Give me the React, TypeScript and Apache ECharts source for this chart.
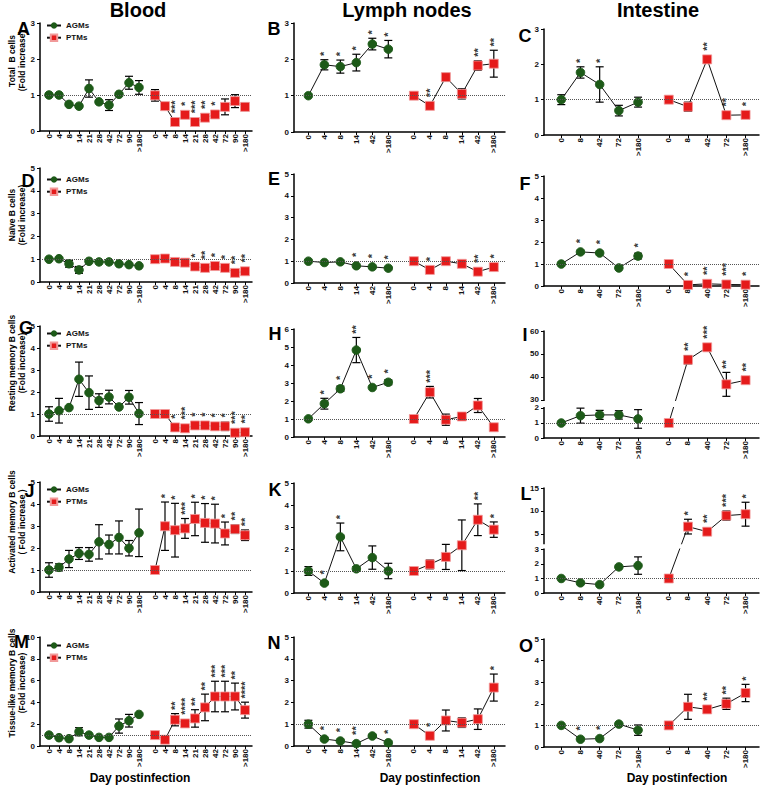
import React, { useEffect, useRef } from "react";
import * as echarts from "echarts";

const FONT = '"Liberation Sans", Arial, Helvetica, sans-serif';
const GREEN = "#1d5a18";
const RED = "#e51b1b";

// ---- categories (days postinfection) ----
const bloodDays = ["0", "4", "8", "14", "21", "28", "42", "72", "90", ">180"];
const lymphDays = ["0", "4", "8", "14", "42", ">180"];
const gutDaysC = ["0", "8", "42", "72", ">180"];
const gutDays = ["0", "8", "40", "72", ">180"];

// ---- Total B cells ----
const A_agm = [1.0, 1.0, 0.74, 0.69, 1.18, 0.81, 0.72, 1.02, 1.34, 1.21];
const A_agmSem = [0.03, 0.03, 0.03, 0.03, 0.24, 0.03, 0.15, 0.04, 0.18, 0.19];
const A_agmSig = ["", "", "", "", "", "", "", "", "", ""];
const A_ptm = [0.99, 0.69, 0.25, 0.45, 0.25, 0.37, 0.46, 0.67, 0.83, 0.67];
const A_ptmSem = [0.16, 0.03, 0.03, 0.03, 0.03, 0.04, 0.09, 0.22, 0.18, 0.1];
const A_ptmSig = ["", "", "***", "*", "***", "**", "*", "", "", ""];

const B_agm = [1.0, 1.85, 1.8, 1.91, 2.42, 2.28];
const B_agmSem = [0.02, 0.14, 0.18, 0.23, 0.16, 0.24];
const B_agmSig = ["", "*", "*", "*", "*", "*"];
const B_ptm = [1.0, 0.72, 1.51, 1.05, 1.83, 1.88];
const B_ptmSem = [0.02, 0.03, 0.1, 0.14, 0.13, 0.37];
const B_ptmSig = ["", "**", "", "", "**", "**"];

const C_agm = [1.0, 1.77, 1.43, 0.69, 0.93];
const C_agmSem = [0.14, 0.16, 0.5, 0.15, 0.14];
const C_agmSig = ["", "*", "*", "", ""];
const C_ptm = [1.0, 0.8, 2.14, 0.56, 0.57];
const C_ptmSem = [0.02, 0.13, 0.03, 0.03, 0.03];
const C_ptmSig = ["", "", "**", "**", "*"];

// ---- Naive B cells ----
const D_agm = [1.0, 1.02, 0.8, 0.53, 0.91, 0.88, 0.88, 0.8, 0.76, 0.71];
const D_agmSem = [0.02, 0.02, 0.15, 0.15, 0.03, 0.03, 0.03, 0.03, 0.03, 0.03];
const D_agmSig = ["", "", "", "", "", "", "", "", "", ""];
const D_ptm = [1.0, 1.03, 0.88, 0.85, 0.68, 0.62, 0.7, 0.62, 0.4, 0.47];
const D_ptmSem = [0.06, 0.04, 0.04, 0.04, 0.04, 0.04, 0.04, 0.04, 0.06, 0.1];
const D_ptmSig = ["", "", "", "", "*", "**", "*", "*", "**", "**"];

const E_agm = [1.0, 0.94, 0.97, 0.79, 0.74, 0.68];
const E_agmSem = [0.03, 0.03, 0.03, 0.03, 0.03, 0.03];
const E_agmSig = ["", "", "", "*", "*", "*"];
const E_ptm = [1.0, 0.6, 1.0, 0.88, 0.52, 0.73];
const E_ptmSem = [0.03, 0.03, 0.03, 0.03, 0.03, 0.03];
const E_ptmSig = ["", "*", "", "", "**", "*"];

const F_agm = [1.0, 1.55, 1.5, 0.82, 1.36];
const F_agmSem = [0.02, 0.03, 0.03, 0.03, 0.13];
const F_agmSig = ["", "*", "*", "", "*"];
const F_ptm = [1.0, 0.05, 0.1, 0.07, 0.06];
const F_ptmSem = [0.02, 0.02, 0.02, 0.02, 0.02];
const F_ptmSig = ["", "*", "**", "***", "*"];

// ---- Resting memory B cells ----
const G_agm = [1.0, 1.15, 1.29, 2.58, 1.97, 1.61, 1.77, 1.32, 1.76, 1.02];
const G_agmSem = [0.33, 0.56, 0.05, 0.78, 0.76, 0.31, 0.31, 0.04, 0.31, 0.5];
const G_agmSig = ["", "", "", "", "", "", "", "", "", ""];
const G_ptm = [1.0, 1.0, 0.39, 0.35, 0.48, 0.48, 0.44, 0.44, 0.15, 0.17];
const G_ptmSem = [0.08, 0.04, 0.04, 0.04, 0.04, 0.04, 0.04, 0.19, 0.04, 0.04];
const G_ptmSig = ["", "", "*", "***", "*", "*", "*", "*", "***", "**"];

const H_agm = [1.01, 1.85, 2.68, 4.83, 2.75, 3.04];
const H_agmSem = [0.02, 0.3, 0.15, 0.7, 0.05, 0.14];
const H_agmSig = ["", "*", "*", "**", "*", "*"];
const H_ptm = [1.0, 2.49, 0.96, 1.14, 1.75, 0.54];
const H_ptmSem = [0.03, 0.32, 0.31, 0.18, 0.39, 0.17];
const H_ptmSig = ["", "***", "", "", "", ""];

const I_agm = [1.0, 1.49, 1.54, 1.54, 1.27];
const I_agmSem = [0.03, 0.5, 0.3, 0.28, 0.62];
const I_agmSig = ["", "", "", "", ""];
const I_ptm = [1.0, 47.5, 52.9, 36.8, 38.6];
const I_ptmSem = [0.05, 1.8, 0.6, 5.2, 1.1];
const I_ptmSig = ["", "**", "***", "**", "**"];

// ---- Activated memory B cells ----
const J_agm = [1.0, 1.12, 1.5, 1.75, 1.71, 2.28, 2.16, 2.48, 1.99, 2.69];
const J_agmSem = [0.33, 0.16, 0.39, 0.27, 0.31, 0.78, 0.43, 0.75, 0.35, 1.08];
const J_agmSig = ["", "", "", "", "", "", "", "", "", ""];
const J_ptm = [1.0, 2.99, 2.81, 2.89, 3.32, 3.14, 3.11, 2.66, 2.86, 2.58];
const J_ptmSem = [0.15, 1.1, 1.22, 0.45, 0.76, 0.88, 0.88, 0.52, 0.2, 0.24];
const J_ptmSig = ["", "*", "*", "***", "*", "*", "*", "*", "**", "**"];

const K_agm = [1.0, 0.45, 2.55, 1.1, 1.61, 1.0];
const K_agmSem = [0.2, 0.05, 0.63, 0.1, 0.53, 0.35];
const K_agmSig = ["", "*", "*", "", "", ""];
const K_ptm = [1.0, 1.3, 1.64, 2.17, 3.33, 2.88];
const K_ptmSem = [0.05, 0.2, 0.57, 1.15, 0.72, 0.35];
const K_ptmSig = ["", "", "", "", "**", "*"];

const L_agm = [1.0, 0.7, 0.58, 1.8, 1.89];
const L_agmSem = [0.03, 0.05, 0.03, 0.05, 0.6];
const L_agmSig = ["", "", "", "", ""];
const L_ptm = [1.0, 6.6, 5.5, 9.0, 9.3];
const L_ptmSem = [0.12, 1.6, 0.3, 1.0, 2.6];
const L_ptmSig = ["", "*", "**", "***", "*"];

// ---- Tissue-like memory B cells ----
const M_agm = [1.0, 0.76, 0.67, 1.31, 1.0, 0.79, 0.79, 1.83, 2.32, 2.9];
const M_agmSem = [0.05, 0.05, 0.05, 0.37, 0.05, 0.05, 0.05, 0.65, 0.58, 0.05];
const M_agmSig = ["", "", "", "", "", "", "", "", "", ""];
const M_ptm = [1.0, 0.58, 2.41, 2.07, 2.53, 3.54, 4.54, 4.54, 4.54, 3.29];
const M_ptmSem = [0.05, 0.05, 0.56, 0.1, 0.8, 1.22, 1.4, 1.4, 1.23, 0.73];
const M_ptmSig = ["", "", "**", "****", "**", "**", "***", "***", "**", "****"];

const N_agm = [1.0, 0.32, 0.23, 0.11, 0.46, 0.15];
const N_agmSem = [0.18, 0.03, 0.03, 0.03, 0.05, 0.03];
const N_agmSig = ["", "*", "*", "**", "", "*"];
const N_ptm = [1.0, 0.47, 1.17, 1.07, 1.23, 2.68];
const N_ptmSem = [0.03, 0.03, 0.48, 0.22, 0.47, 0.62];
const N_ptmSig = ["", "*", "", "", "", "*"];

const O_agm = [1.0, 0.36, 0.39, 1.06, 0.78];
const O_agmSem = [0.03, 0.03, 0.03, 0.03, 0.24];
const O_agmSig = ["", "*", "*", "", ""];
const O_ptm = [1.0, 1.86, 1.74, 2.0, 2.5];
const O_ptmSem = [0.03, 0.58, 0.1, 0.26, 0.4];
const O_ptmSig = ["", "", "**", "**", "*"];

// ---- axis tick labels ----
const yTicksI = [0, 1, 2, 30, 40, 50, 60];
const yTicksL = [0, 1, 2, 3, 5, 10, 15];

// ---- texts ----
const colTitles = ["Blood", "Lymph nodes", "Intestine"];
const rowNames = [
  "Total  B cells\n(Fold increase)",
  "Naïve B cells\n(Fold increase)",
  "Resting memory B cells\n(Fold increase)",
  "Activated memory B cells\n( Fold increase )",
  "Tissue-like memory B cells\n(Fold increase)",
];
const xName = "Day postinfection";
const letters = ["A", "B", "C", "D", "E", "F", "G", "H", "I", "J", "K", "L", "M", "N", "O"];
const seriesNames = ["AGMs", "PTMs"];

interface Brk {
  lowMax: number;
  highMin: number;
  gap: number;
  scale: number;
  ticks: number[];
}
interface Panel {
  days: string[];
  agm: number[];
  agmSem: number[];
  agmSig: string[];
  ptm: number[];
  ptmSem: number[];
  ptmSig: string[];
  yMax: number;
  yStep: number;
  brk?: Brk;
}

const panels: Panel[] = [
  { days: bloodDays, agm: A_agm, agmSem: A_agmSem, agmSig: A_agmSig, ptm: A_ptm, ptmSem: A_ptmSem, ptmSig: A_ptmSig, yMax: 3, yStep: 1 },
  { days: lymphDays, agm: B_agm, agmSem: B_agmSem, agmSig: B_agmSig, ptm: B_ptm, ptmSem: B_ptmSem, ptmSig: B_ptmSig, yMax: 3, yStep: 1 },
  { days: gutDaysC, agm: C_agm, agmSem: C_agmSem, agmSig: C_agmSig, ptm: C_ptm, ptmSem: C_ptmSem, ptmSig: C_ptmSig, yMax: 3, yStep: 1 },
  { days: bloodDays, agm: D_agm, agmSem: D_agmSem, agmSig: D_agmSig, ptm: D_ptm, ptmSem: D_ptmSem, ptmSig: D_ptmSig, yMax: 5, yStep: 1 },
  { days: lymphDays, agm: E_agm, agmSem: E_agmSem, agmSig: E_agmSig, ptm: E_ptm, ptmSem: E_ptmSem, ptmSig: E_ptmSig, yMax: 5, yStep: 1 },
  { days: gutDays, agm: F_agm, agmSem: F_agmSem, agmSig: F_agmSig, ptm: F_ptm, ptmSem: F_ptmSem, ptmSig: F_ptmSig, yMax: 5, yStep: 1 },
  { days: bloodDays, agm: G_agm, agmSem: G_agmSem, agmSig: G_agmSig, ptm: G_ptm, ptmSem: G_ptmSem, ptmSig: G_ptmSig, yMax: 5, yStep: 1 },
  { days: lymphDays, agm: H_agm, agmSem: H_agmSem, agmSig: H_agmSig, ptm: H_ptm, ptmSem: H_ptmSem, ptmSig: H_ptmSig, yMax: 6, yStep: 1 },
  { days: gutDays, agm: I_agm, agmSem: I_agmSem, agmSig: I_agmSig, ptm: I_ptm, ptmSem: I_ptmSem, ptmSig: I_ptmSig, yMax: 60, yStep: 10,
    brk: { lowMax: 2, highMin: 30, gap: 0.533, scale: 0.1533, ticks: yTicksI } },
  { days: bloodDays, agm: J_agm, agmSem: J_agmSem, agmSig: J_agmSig, ptm: J_ptm, ptmSem: J_ptmSem, ptmSig: J_ptmSig, yMax: 5, yStep: 1 },
  { days: lymphDays, agm: K_agm, agmSem: K_agmSem, agmSig: K_agmSig, ptm: K_ptm, ptmSem: K_ptmSem, ptmSig: K_ptmSig, yMax: 5, yStep: 1 },
  { days: gutDays, agm: L_agm, agmSem: L_agmSem, agmSig: L_agmSig, ptm: L_ptm, ptmSem: L_ptmSem, ptmSig: L_ptmSig, yMax: 15, yStep: 5,
    brk: { lowMax: 3, highMin: 3, gap: 0.436, scale: 0.317, ticks: yTicksL } },
  { days: bloodDays, agm: M_agm, agmSem: M_agmSem, agmSig: M_agmSig, ptm: M_ptm, ptmSem: M_ptmSem, ptmSig: M_ptmSig, yMax: 10, yStep: 2 },
  { days: lymphDays, agm: N_agm, agmSem: N_agmSem, agmSig: N_agmSig, ptm: N_ptm, ptmSem: N_ptmSem, ptmSig: N_ptmSig, yMax: 5, yStep: 1 },
  { days: gutDays, agm: O_agm, agmSem: O_agmSem, agmSig: O_agmSig, ptm: O_ptm, ptmSem: O_ptmSem, ptmSig: O_ptmSig, yMax: 5, yStep: 1 },
];

// ---- layout (pixels) ----
const COLS = [
  { left: 40, width: 212 },
  { left: 294, width: 211 },
  { left: 544, width: 215 },
];
const PANEL_Y = [
  [23, 131], [23, 132], [29, 135],
  [168, 282], [174, 283], [176, 286],
  [326, 436], [329, 437], [331, 438],
  [482, 592], [483, 593], [488, 593],
  [637, 746], [637, 746], [639, 747],
];
const LETTER_POS = [
  [23.5, 28.5], [274, 28.5], [525, 35.5],
  [28, 180.5], [274, 178.5], [525, 183.5],
  [26, 327.5], [275, 333.5], [525, 334.5],
  [29.5, 491], [275, 489.5], [526, 493.5],
  [21.5, 642], [274, 642.5], [526, 645.5],
];
const TITLE_X = [138, 407, 658];
const XNAME_X = [140, 430, 677];
const ROWNAME_Y = [61, 215, 363, 522, 683];
const LEGEND_TOP = [21.5, 175.5, 329.5, 485.5, 641.5];

const LEAD = 9, STEP = 10, GAP = 16, TRAIL = 7;

function buildOption() {
  const grid: any[] = [];
  const xAxis: any[] = [];
  const yAxis: any[] = [];
  const series: any[] = [];
  const graphic: any[] = [];

  panels.forEach((p, k) => {
    const col = k % 3;
    const [y0, y1] = PANEL_Y[k];
    grid.push({ left: COLS[col].left, top: y0, width: COLS[col].width, height: y1 - y0 });

    const n = p.days.length;
    const total = LEAD + (n - 1) * STEP * 2 + GAP + TRAIL + 1;
    const cats: string[] = Array.from({ length: total }, (_, i) => `b${i}`);
    const gx = p.days.map((_, i) => LEAD + i * STEP);
    const px = p.days.map((_, j) => LEAD + (n - 1) * STEP + GAP + j * STEP);
    gx.forEach((x, i) => (cats[x] = `g${i}|${p.days[i]}`));
    px.forEach((x, i) => (cats[x] = `p${i}|${p.days[i]}`));
    const showIdx = (_i: number, v: string) => v.indexOf("|") >= 0;

    const brk = p.brk;
    const toDisp = (v: number) =>
      !brk || v <= brk.lowMax ? v : brk.lowMax + brk.gap + (v - brk.highMin) * brk.scale;

    xAxis.push({
      gridIndex: k,
      type: "category",
      data: cats,
      boundaryGap: false,
      axisLine: { lineStyle: { color: "#000", width: 1.5 } },
      axisTick: { interval: showIdx, length: 3, lineStyle: { color: "#000", width: 1 } },
      axisLabel: {
        interval: showIdx,
        rotate: 90,
        margin: 3,
        fontSize: 8,
        fontWeight: "bold",
        fontFamily: FONT,
        color: "#111",
        formatter: (v: string) => (v.indexOf("|") >= 0 ? v.split("|")[1] : ""),
      },
      splitLine: { show: false },
    });

    const yMaxDisp = toDisp(p.yMax);
    const ppu = (y1 - y0) / yMaxDisp;
    const yA: any = {
      gridIndex: k,
      type: "value",
      min: 0,
      max: yMaxDisp,
      splitLine: { show: false },
      axisLine: { show: true, lineStyle: { color: "#000", width: 1.5 } },
      axisTick: { show: true, length: 3, lineStyle: { color: "#000", width: 1 } },
      axisLabel: { fontSize: 8, fontWeight: "bold", fontFamily: FONT, color: "#111", margin: 5 },
    };
    if (brk) {
      const disp = brk.ticks.map(toDisp);
      yA.axisTick.customValues = disp;
      yA.axisLabel.customValues = disp;
      yA.axisLabel.formatter = (val: number) => {
        const i = disp.findIndex((d) => Math.abs(d - val) < 1e-3);
        return i >= 0 ? String(brk.ticks[i]) : "";
      };
    } else {
      yA.interval = p.yStep;
    }
    yAxis.push(yA);

    series.push({
      name: seriesNames[0],
      type: "line",
      xAxisIndex: k,
      yAxisIndex: k,
      data: p.agm.map((v, i) => [gx[i], toDisp(v)]),
      symbol: "circle",
      symbolSize: 8.5,
      itemStyle: { color: GREEN, borderColor: GREEN },
      lineStyle: { color: "#111", width: 1 },
      z: 3,
      clip: false,
      markLine: {
        silent: true,
        symbol: ["none", "none"],
        label: { show: false },
        lineStyle: { type: "dotted", color: "#555", width: 1 },
        data: [{ yAxis: 1 }],
      },
    });
    series.push({
      name: seriesNames[1],
      type: "line",
      xAxisIndex: k,
      yAxisIndex: k,
      data: p.ptm.map((v, i) => [px[i], toDisp(v)]),
      symbol: "rect",
      symbolSize: 9,
      itemStyle: { color: RED, borderColor: "#f19a9a", borderWidth: 0.8 },
      lineStyle: { color: "#111", width: 1 },
      z: 3,
      clip: false,
    });

    // error bars and asterisk anchors
    const errData: number[][] = [];
    const starData: number[][] = [];
    const starText: string[] = [];
    const addItem = (x: number, v: number, sem: number, sig: string) => {
      const yd = toDisp(v);
      const hd = toDisp(v + sem);
      errData.push([x, yd, toDisp(v - sem), hd]);
      if (sig) {
        starData.push([x, Math.max(hd, yd + 5 / ppu) + 1.5 / ppu]);
        starText.push(sig);
      }
    };
    p.agm.forEach((v, i) => addItem(gx[i], v, p.agmSem[i], p.agmSig[i]));
    p.ptm.forEach((v, i) => addItem(px[i], v, p.ptmSem[i], p.ptmSig[i]));

    series.push({
      type: "custom",
      xAxisIndex: k,
      yAxisIndex: k,
      z: 2,
      silent: true,
      itemStyle: { color: "#000" },
      encode: { x: 0, y: 1 },
      data: errData,
      renderItem: (_params: any, api: any) => {
        const x = api.value(0);
        const pt = api.coord([x, api.value(1)]);
        const lo = api.coord([x, api.value(2)]);
        const hi = api.coord([x, api.value(3)]);
        if (lo[1] - hi[1] <= 2) return { type: "group", children: [] };
        const ls = { stroke: "#000", lineWidth: 1.2 };
        return {
          type: "group",
          children: [
            { type: "line", shape: { x1: pt[0], y1: hi[1], x2: pt[0], y2: lo[1] }, style: ls },
            { type: "line", shape: { x1: pt[0] - 4, y1: hi[1], x2: pt[0] + 4, y2: hi[1] }, style: ls },
            { type: "line", shape: { x1: pt[0] - 4, y1: lo[1], x2: pt[0] + 4, y2: lo[1] }, style: ls },
          ],
        };
      },
    });

    // significance asterisks
    series.push({
      type: "scatter",
      xAxisIndex: k,
      yAxisIndex: k,
      z: 4,
      silent: true,
      symbolSize: 1,
      itemStyle: { color: "rgba(0,0,0,0)" },
      data: starData,
      label: {
        show: true,
        position: "inside",
        rotate: 90,
        align: "left",
        verticalAlign: "middle",
        offset: [2.2, 0],
        color: "#000",
        fontSize: 11,
        fontWeight: "bold",
        fontFamily: FONT,
        formatter: (prm: any) => starText[prm.dataIndex],
      },
    });

    if (brk) {
      series.push({
        type: "custom",
        xAxisIndex: k,
        yAxisIndex: k,
        z: 6,
        silent: true,
        itemStyle: { color: "#fff" },
        data: [[0, 0]],
        renderItem: (params: any, api: any) => {
          const cs = params.coordSys;
          const ya = api.coord([0, brk.lowMax + 0.07])[1];
          const yb = api.coord([0, brk.lowMax + brk.gap - 0.07])[1];
          return {
            type: "rect",
            shape: { x: cs.x - 4, y: yb, width: cs.width + 8, height: ya - yb },
            style: { fill: "#fff" },
          };
        },
      });
    }

    graphic.push({
      type: "text",
      x: LETTER_POS[k][0],
      y: LETTER_POS[k][1],
      style: {
        text: letters[k],
        fontSize: 18,
        fontWeight: "bold",
        fontFamily: FONT,
        fill: "#000",
        align: "center",
        verticalAlign: "middle",
      },
    });
  });

  colTitles.forEach((t, c) => {
    graphic.push({
      type: "text",
      x: TITLE_X[c],
      y: 10,
      style: { text: t, fontSize: 20, fontWeight: "bold", fontFamily: FONT, fill: "#000", align: "center", verticalAlign: "middle" },
    });
    graphic.push({
      type: "text",
      x: XNAME_X[c],
      y: 778,
      style: { text: xName, fontSize: 12, fontWeight: "bold", fontFamily: FONT, fill: "#000", align: "center", verticalAlign: "middle" },
    });
  });
  rowNames.forEach((t, r) => {
    graphic.push({
      type: "text",
      x: 16.5,
      y: ROWNAME_Y[r],
      rotation: Math.PI / 2,
      style: {
        text: t,
        fontSize: 8.5,
        lineHeight: 10,
        fontWeight: "bold",
        fontFamily: FONT,
        fill: "#000",
        align: "center",
        verticalAlign: "middle",
      },
    });
  });

  const legend = LEGEND_TOP.map((top) => ({
    data: seriesNames,
    orient: "vertical",
    left: 46,
    top,
    padding: 0,
    itemGap: 4,
    itemWidth: 14,
    itemHeight: 8,
    selectedMode: false,
    textStyle: { fontSize: 8, fontWeight: "bold", fontFamily: FONT, color: "#111" },
  }));

  return {
    animation: false,
    backgroundColor: "#fff",
    grid,
    xAxis,
    yAxis,
    series,
    legend,
    graphic,
  };
}

export default function App() {
  const ref = useRef<HTMLDivElement>(null);
  useEffect(() => {
    if (!ref.current) return;
    const chart = echarts.init(ref.current, null, { renderer: "svg", width: 760, height: 789 });
    chart.setOption(buildOption() as any);
    return () => chart.dispose();
  }, []);
  return (
    <div
      ref={ref}
      style={{ position: "fixed", left: 0, top: 0, width: 760, height: 789, background: "#fff" }}
    />
  );
}
